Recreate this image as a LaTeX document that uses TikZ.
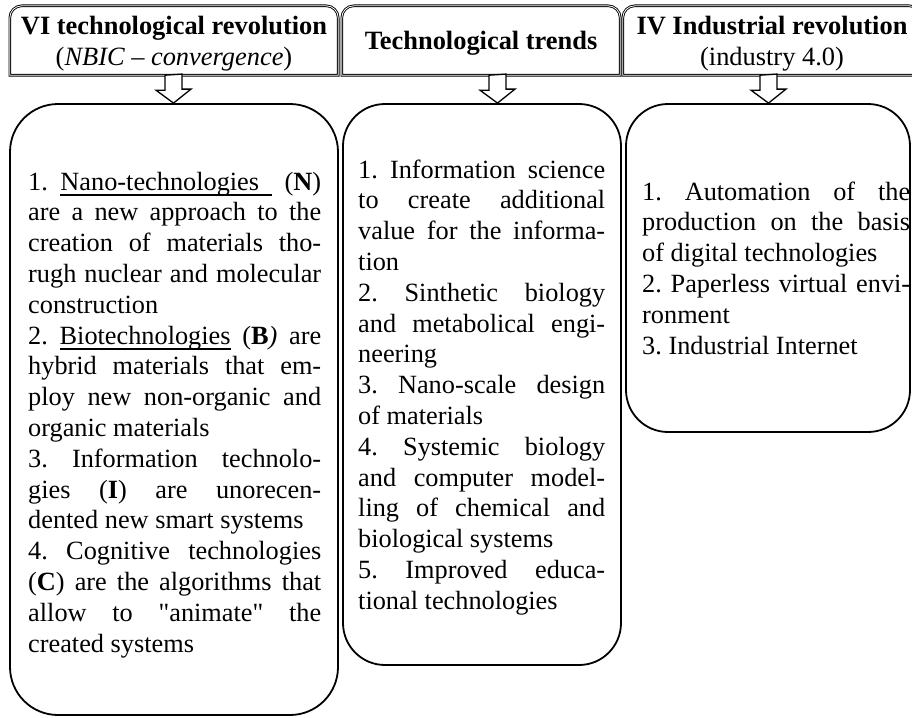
\documentclass[tikz,border=0pt]{standalone}
\usepackage{fontspec}
\setmainfont{Liberation Serif}
% family without TeX ligature mapping, so " stays a straight quote
\newfontfamily\txtfont{Liberation Serif}
\usetikzlibrary{calc}

% one justified line, and one left-aligned (paragraph-final) line
\newcommand\jline[1]{\hbox to \hsize{\strut#1}}
\newcommand\eline[1]{\hbox{\strut#1}}
% underlined word; #2 = extra underline length after the word
\newcommand\ulword[2]{\setbox0\hbox{#1}\rlap{\rule[-5.5pt]{\dimexpr\wd0+#2\relax}{1.2pt}}\box0\hspace{#2}}
\newcommand\tallstrut{\rule{0pt}{28pt}}

% header frame: rounded top corners, square bottom corners
\newcommand\hdrframe[1]{%
  \draw[hdrline] (#1.south west) -- ([yshift=-12pt]#1.north west)
    arc[start angle=180,end angle=90,radius=12pt]
    -- ([xshift=-12pt]#1.north east)
    arc[start angle=90,end angle=0,radius=12pt]
    -- (#1.south east) -- cycle;}

% hollow block arrow from a header down to its box, at x of coordinate #1
\newcommand\hollowdown[3]{%
  \draw[blockarrow] ($(#1 |- #2.south)+(-8.5,0)$) -- ++(0,15) -- ++(-9,0)
    -- (#1 |- #3.north) -- ++(17.5,-14) -- ++(-9,0) -- ++(0,-15) -- cycle;}

\tikzset{
  hdr/.style={font=\txtfont\frenchspacing\bfseries\fontsize{26.4}{30}\selectfont,
              align=center, inner sep=0pt},
  hdrline/.style={draw, double, double distance=0.8pt, line width=0.9pt},
  bodybox/.style={draw, line width=1.8pt, rounded corners=#1, inner sep=0pt},
  bodytext/.style={font=\txtfont\frenchspacing\fontsize{26.3}{30.8}\selectfont,
                   inner sep=0pt, anchor=north west},
  blockarrow/.style={draw, line width=1.3pt, fill=white, line join=miter},
}

\begin{document}
\frenchspacing
\begin{tikzpicture}[x=1pt,y=-1pt]
\useasboundingbox (0,0) rectangle (912,717);
\fill[white] (0,0) rectangle (912,717);

% headers
\node[hdr, minimum width=328pt, minimum height=69pt] (h1) at (174,40.5)
  {\tallstrut VI technological revolution\\
   \strut\mdseries(\textit{NBIC – convergence})};
\node[hdr, minimum width=278pt, minimum height=69pt] (h2) at (481,40.5)
  {\tallstrut Technological trends\strut};
\node[hdr, minimum width=298pt, minimum height=69pt] (h3) at (772,40.5)
  {\tallstrut IV Industrial revolution\\
   \strut\mdseries(industry 4.0)};
\hdrframe{h1}
\hdrframe{h2}
\hdrframe{h3}

% content boxes
\node[bodybox=48, minimum width=328pt, minimum height=611pt] (b1) at (174,409.5) {};
\node[bodybox=42, minimum width=278pt, minimum height=561pt] (b2) at (482,384.5) {};
\node[bodybox=42, minimum width=284pt, minimum height=328pt] (b3) at (768,268) {};

% box texts
\node[bodytext] (t1) at (28,168.4) {\vbox{\hsize=293pt
\jline{1. \ulword{Nano-technologies}{13pt} (\textbf{N})}
\jline{are a new approach to the}
\jline{creation of materials tho-}
\jline{rugh nuclear and molecular}
\eline{construction}
\jline{2. \ulword{Biotechnologies}{0pt} (\textbf{B}\textit{)} are}
\jline{hybrid materials that em-}
\jline{ploy new non-organic and}
\eline{organic materials}
\jline{3. Information technolo-}
\jline{gies (\textbf{I}) are unorecen-}
\eline{dented new smart systems}
\jline{4. Cognitive technologies}
\jline{(\textbf{C}) are the algorithms that}
\jline{allow to "animate" the}
\eline{created systems}}};

\node[bodytext] (t2) at (358,156.4) {\vbox{\hsize=247pt
\jline{1. Information science}
\jline{to create additional}
\jline{value for the informa-}
\eline{tion}
\jline{2. Sinthetic biology}
\jline{and metabolical engi-}
\eline{neering}
\jline{3. Nano-scale design}
\eline{of materials}
\jline{4. Systemic biology}
\jline{and computer model-}
\jline{ling of chemical and}
\eline{biological systems}
\jline{5. Improved educa-}
\eline{tional technologies}}};

\node[bodytext] (t3) at (642,178.4) {\vbox{\hsize=268pt
\jline{1. Automation of the}
\jline{production on the basis}
\eline{of digital technologies}
\jline{2. Paperless virtual envi-}
\eline{ronment}
\eline{3. Industrial Internet}}};

% arrows
\coordinate (a1) at (173.5,0);
\coordinate (a2) at (497.5,0);
\coordinate (a3) at (768.5,0);
\hollowdown{a1}{h1}{b1}
\hollowdown{a2}{h2}{b2}
\hollowdown{a3}{h3}{b3}
\end{tikzpicture}
\end{document}
